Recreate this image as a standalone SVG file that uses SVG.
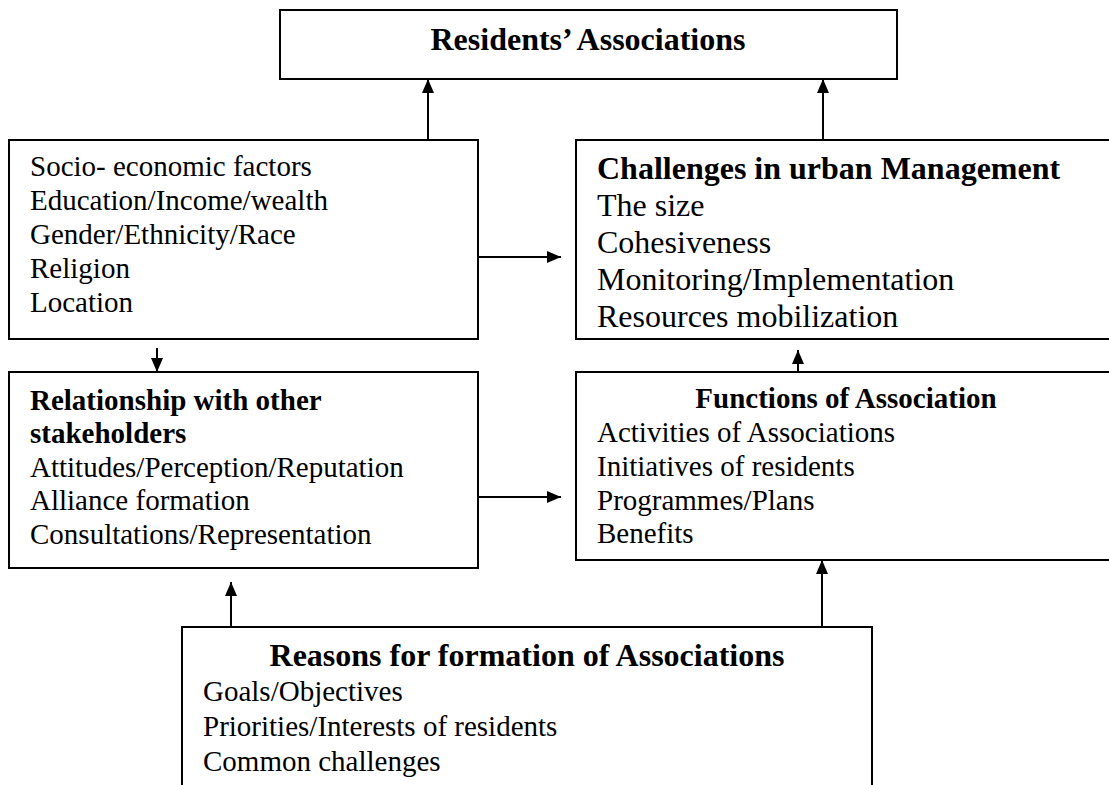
<svg xmlns="http://www.w3.org/2000/svg" width="1109" height="785" viewBox="0 0 1109 785">
<defs>
<style>
.box{fill:#fff;stroke:#000;stroke-width:2}
.t{font-family:"Liberation Serif","Times New Roman",serif;font-size:29px;fill:#000}
.t32{font-size:32px}
.b{font-weight:bold}
.c{stroke:#000;stroke-width:2;fill:none}
</style>
<marker id="ah" markerUnits="userSpaceOnUse" markerWidth="14" markerHeight="12" refX="14" refY="6" orient="auto">
<path d="M0,0 L14,6 L0,12 Z" fill="#000"/>
</marker>
</defs>
<rect width="1109" height="785" fill="#fff"/>
<g id="residents">
<rect class="box" x="280" y="10" width="617" height="69"/>
<text class="t t32 b" x="588" y="50" text-anchor="middle">Residents’ Associations</text>
</g>
<g id="socio">
<rect class="box" x="9" y="140" width="469" height="199"/>
<text class="t" x="30" y="176">Socio- economic factors</text>
<text class="t" x="30" y="210">Education/Income/wealth</text>
<text class="t" x="30" y="244">Gender/Ethnicity/Race</text>
<text class="t" x="30" y="278">Religion</text>
<text class="t" x="30" y="312">Location</text>
</g>
<g id="challenges">
<rect class="box" x="576" y="140" width="540" height="199"/>
<text class="t t32 b" x="597" y="179">Challenges in urban Management</text>
<text class="t t32" x="597" y="216">The size</text>
<text class="t t32" x="597" y="253">Cohesiveness</text>
<text class="t t32" x="597" y="290">Monitoring/Implementation</text>
<text class="t t32" x="597" y="327">Resources mobilization</text>
</g>
<g id="relationship">
<rect class="box" x="9" y="372" width="469" height="196"/>
<text class="t b" x="30" y="410">Relationship with other</text>
<text class="t b" x="30" y="443">stakeholders</text>
<text class="t" x="30" y="477">Attitudes/Perception/Reputation</text>
<text class="t" x="30" y="510">Alliance formation</text>
<text class="t" x="30" y="544">Consultations/Representation</text>
</g>
<g id="functions">
<rect class="box" x="576" y="372" width="540" height="188"/>
<text class="t b" x="846" y="408" text-anchor="middle">Functions of Association</text>
<text class="t" x="597" y="442">Activities of Associations</text>
<text class="t" x="597" y="476">Initiatives of residents</text>
<text class="t" x="597" y="510">Programmes/Plans</text>
<text class="t" x="597" y="543">Benefits</text>
</g>
<g id="reasons">
<rect class="box" x="182" y="627" width="690" height="200"/>
<text class="t t32 b" x="527" y="666" text-anchor="middle">Reasons for formation of Associations</text>
<text class="t" x="203" y="701">Goals/Objectives</text>
<text class="t" x="203" y="736">Priorities/Interests of residents</text>
<text class="t" x="203" y="771">Common challenges</text>
</g>
<g id="connectors">
<line class="c" x1="428" y1="140" x2="428" y2="79" marker-end="url(#ah)"/>
<line class="c" x1="823" y1="140" x2="823" y2="79" marker-end="url(#ah)"/>
<line class="c" x1="478" y1="257" x2="561" y2="257" marker-end="url(#ah)"/>
<line class="c" x1="478" y1="497" x2="561" y2="497" marker-end="url(#ah)"/>
<line class="c" x1="157" y1="348" x2="157" y2="372" marker-end="url(#ah)"/>
<line class="c" x1="798" y1="372" x2="798" y2="350" marker-end="url(#ah)"/>
<line class="c" x1="231" y1="627" x2="231" y2="582" marker-end="url(#ah)"/>
<line class="c" x1="822" y1="627" x2="822" y2="560" marker-end="url(#ah)"/>
</g>
</svg>
